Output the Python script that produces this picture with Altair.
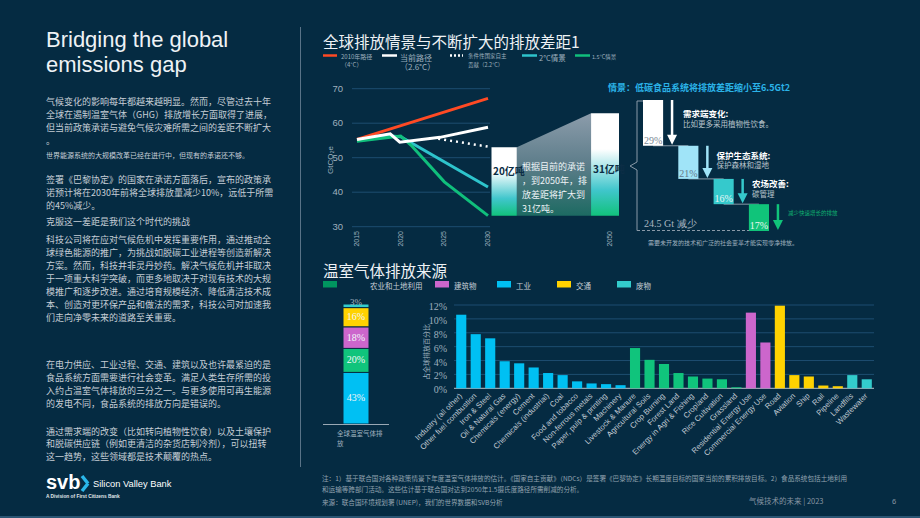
import altair as alt
import pandas as pd

# ---------------- data ----------------
# line chart (global emissions scenarios, GtCO2e)
red_years = [2015, 2030]
red_vals = [55.3, 67.2]
cur_years = [2015, 2018.8, 2019.9, 2024.5, 2030]
cur_vals = [55.3, 56.9, 54.5, 55.9, 58.8]
ndc_years = [2024.3, 2030]
ndc_vals = [55.5, 53.2]
t2_years = [2015, 2018.8, 2020, 2030]
t2_vals = [54.9, 56.3, 56.1, 41.5]
t15_years = [2015, 2018.8, 2020, 2021.2, 2025, 2030]
t15_vals = [54.8, 55.9, 56.3, 53.6, 43.0, 33.2]
line_ticks = [30, 40, 50, 60, 70]
line_years = [2015, 2020, 2025, 2030]
gap_low = [33.2, 33.2]
gap_high = [53.0, 62.9]
gap_labels = ["20亿吨", "31亿吨"]

# waterfall
wf_steps = ["需求端变化", "保护生态系统", "农场改善", "减少快速增长的排放"]
wf_pcts = [29, 21, 16, 17]

# stacked bar
sector_names = ["农业和土地利用", "建筑物", "工业", "交通", "废物"]
stack_order = ["工业", "农业和土地利用", "建筑物", "交通", "废物"]
stack_vals = [43, 20, 18, 16, 3]

# bar chart
bar_cats = ["Industry (all other)", "Other fuel combustion", "Iron & Steel", "Oil & Natural Gas",
            "Chemicals (energy)", "Cement", "Chemicals (industrial)", "Coal", "Food and tobacco",
            "Non-ferrous metals", "Paper, pulp & printing", "Machinery", "Livestock & Manure",
            "Agricultural Soils", "Crop Burning", "Forest Land", "Energy in Agri & Fishing",
            "Cropland", "Rice Cultivation", "Grassland", "Residential Energy Use",
            "Commercial Energy Use", "Road", "Aviation", "Ship", "Rail", "Pipeline",
            "Landfills", "Wastewater"]
bar_vals = [10.6, 7.8, 7.2, 3.9, 3.6, 3.0, 2.2, 1.9, 1.0, 0.7, 0.6, 0.45,
            5.8, 4.1, 3.5, 2.2, 1.7, 1.4, 1.3, 0.15,
            10.9, 6.6,
            11.9, 1.9, 1.7, 0.4, 0.3,
            1.9, 1.3]
bar_sector = ["工业"] * 12 + ["农业和土地利用"] * 8 + ["建筑物"] * 2 + ["交通"] * 5 + ["废物"] * 2
bar_ticks = [0, 2, 4, 6, 8, 10, 12]

# ---------------- style ----------------
BG = "#052b42"
CJK = "Noto Sans CJK SC"
LAT = "Liberation Sans"
SERIF = "Liberation Serif"
BODY = "#c5ced6"
WHITE = "#eef2f5"
GRAY = "#9fb0be"
GRID = "#1d4d70"
C_AGRI, C_BUILD, C_IND, C_TRANS, C_WASTE = "#10c47c", "#cc66cc", "#00c0f3", "#ffd200", "#33cccc"
sector_colors = [C_AGRI, C_BUILD, C_IND, C_TRANS, C_WASTE]
wf_colors = ["#ffffff", "#a0e4f8", "#35c9cc", "#10c47a"]
wf_text_colors = ["#7a8894", "#66798a", "#eaf6f6", "#eaf8f0"]

ONE = pd.DataFrame({"k": [0]})


def T(x, y, s, size=9, color=BODY, font=CJK, weight="normal", align="left", angle=None, baseline="middle"):
    kw = dict(font=font, fontSize=size, color=color, fontWeight=weight, align=align, baseline=baseline)
    if angle is not None:
        kw["angle"] = angle
    return alt.Chart(ONE).mark_text(**kw).encode(x=alt.value(x), y=alt.value(y), text=alt.value(s))


def R(x1, y1, x2, y2, color, width=1, dash=None):
    kw = dict(color=color, strokeWidth=width)
    if dash:
        kw["strokeDash"] = dash
    return alt.Chart(ONE).mark_rule(**kw).encode(x=alt.value(x1), y=alt.value(y1),
                                                 x2=alt.value(x2), y2=alt.value(y2))


def BOX(x1, y1, x2, y2, color):
    return alt.Chart(ONE).mark_rect(color=color).encode(x=alt.value(x1), y=alt.value(y1),
                                                        x2=alt.value(x2), y2=alt.value(y2))


# ---------------- line chart ----------------
X_LINE = alt.Scale(domain=[2015, 2045], range=[357, 619], nice=False, zero=False)
Y_LINE = alt.Scale(domain=[30, 70], range=[226.7, 88.7], nice=False, zero=False)

df_lt = pd.DataFrame({"v": line_ticks})
l_grid = alt.Chart(df_lt).mark_rule(color=GRID, strokeWidth=1).encode(
    y=alt.Y("v:Q", scale=Y_LINE, axis=None), x=alt.value(352), x2=alt.value(490))
l_ylab = alt.Chart(df_lt).mark_text(align="right", baseline="middle", font=LAT, fontSize=9.5, color=GRAY).encode(
    y=alt.Y("v:Q", scale=Y_LINE, axis=None), x=alt.value(343), text=alt.Text("v:Q", format="d"))
l_xlab = alt.Chart(pd.DataFrame({"yr": line_years})).mark_text(
    angle=270, align="right", baseline="middle", font=LAT, fontSize=7, color=GRAY).encode(
    x=alt.X("yr:Q", scale=X_LINE, axis=None), y=alt.value(231), text=alt.Text("yr:Q", format="d"))


def series(years, vals, color, dash=None, width=3):
    kw = dict(color=color, strokeWidth=width)
    if dash:
        kw["strokeDash"] = dash
    return alt.Chart(pd.DataFrame({"yr": years, "v": vals})).mark_line(**kw).encode(
        x=alt.X("yr:Q", scale=X_LINE, axis=None), y=alt.Y("v:Q", scale=Y_LINE, axis=None))


gap_grad = alt.Gradient(gradient="linear", x1=0, x2=0, y1=0, y2=1, stops=[
    alt.GradientStop(color="#ffffff", offset=0), alt.GradientStop(color="#ffffff", offset=0.35),
    alt.GradientStop(color="#40c6cc", offset=0.75), alt.GradientStop(color="#12c27c", offset=1)])
trap_grad = alt.Gradient(gradient="linear", x1=0, x2=0, y1=0, y2=1, stops=[
    alt.GradientStop(color="#8c9cab", offset=0), alt.GradientStop(color="#5d7d8a", offset=0.5),
    alt.GradientStop(color="#1d6a62", offset=1)])

GAP_X0 = [2030.4, 2041.8]
GAP_X1 = [2033.3, 2045.0]
df_gap = pd.DataFrame({"x0": GAP_X0, "x1": GAP_X1, "lo": gap_low, "hi": gap_high})
gap_bars = alt.Chart(df_gap).mark_rect(color=gap_grad).encode(
    x=alt.X("x0:Q", scale=X_LINE, axis=None), x2="x1:Q",
    y=alt.Y("lo:Q", scale=Y_LINE, axis=None), y2="hi:Q")
df_trap = pd.DataFrame({"yr": [GAP_X1[0], GAP_X0[1]], "top": gap_high, "bot": gap_low})
trap = alt.Chart(df_trap).mark_area(color=trap_grad).encode(
    x=alt.X("yr:Q", scale=X_LINE, axis=None),
    y=alt.Y("top:Q", scale=Y_LINE, axis=None), y2="bot:Q")

line_layer = alt.layer(
    l_grid, l_ylab, l_xlab,
    series(t2_years, t2_vals, "#2ec4cc"),
    series(t15_years, t15_vals, "#10bf7c"),
    series(red_years, red_vals, "#ff4a24"),
    series(cur_years, cur_vals, "#ffffff"),
    series(ndc_years, ndc_vals, "#ffffff", dash=[2, 4], width=2.5),
    trap, gap_bars,
)

# ---------------- waterfall ----------------
df_wf = pd.DataFrame({"step": wf_steps, "pct": wf_pcts})
df_wf["end"] = df_wf["pct"].cumsum()
df_wf["start"] = df_wf["end"] - df_wf["pct"]
df_wf["label"] = df_wf["pct"].astype(str) + "%"
X_WF = alt.Scale(domain=wf_steps, range=[643, 769], paddingInner=0.43, paddingOuter=0)
Y_WF = alt.Scale(domain=[0, sum(wf_pcts)], range=[100, 231], nice=False, zero=False)
C_WF = alt.Scale(domain=wf_steps, range=wf_colors)
C_WFT = alt.Scale(domain=wf_steps, range=wf_text_colors)
xw = alt.X("step:N", scale=X_WF, axis=None)

df_conn = pd.DataFrame({"a": wf_steps[:-1], "b": wf_steps[1:], "y": list(df_wf["end"][:-1])})
wf_conn = alt.Chart(df_conn).mark_rule(color="#8a9aa8", strokeWidth=1).encode(
    x=alt.X("a:N", scale=X_WF, axis=None), x2="b:N", y=alt.Y("y:Q", scale=Y_WF, axis=None))
wf_box = alt.Chart(df_wf).mark_bar().encode(
    x=xw, y=alt.Y("start:Q", scale=Y_WF, axis=None), y2="end:Q",
    color=alt.Color("step:N", scale=C_WF, legend=None))
wf_lab = alt.Chart(df_wf).mark_text(font=SERIF, fontSize=10, baseline="middle", yOffset=-5).encode(
    x=xw, y=alt.Y("end:Q", scale=Y_WF, axis=None), text="label:N",
    fill=alt.Fill("step:N", scale=C_WFT, legend=None))
wf_shaft = alt.Chart(df_wf).mark_rule(strokeWidth=2.5, xOffset=19, y2Offset=-6).encode(
    x=xw, y=alt.Y("start:Q", scale=Y_WF, axis=None), y2="end:Q",
    color=alt.Color("step:N", scale=C_WF, legend=None))
wf_head = alt.Chart(df_wf).mark_point(shape="M-1,-1L1,-1L0,1Z", size=100, filled=True, opacity=1,
                                      xOffset=19, yOffset=-6).encode(
    x=xw, y=alt.Y("end:Q", scale=Y_WF, axis=None),
    color=alt.Color("step:N", scale=C_WF, legend=None))
wf_layer = alt.layer(wf_conn, wf_box, wf_shaft, wf_head, wf_lab)

# ---------------- stacked bar ----------------
df_s = pd.DataFrame({"sector": stack_order, "v": stack_vals})
df_s["end"] = df_s["v"].cumsum()
df_s["start"] = df_s["end"] - df_s["v"]
df_s["mid"] = (df_s["start"] + df_s["end"]) / 2
df_s["label"] = df_s["v"].astype(str) + "%"
Y_ST = alt.Scale(domain=[0, 100], range=[424, 304], nice=False, zero=False)
C_SEC = alt.Scale(domain=sector_names, range=sector_colors)
st_bar = alt.Chart(df_s).mark_rect(stroke=BG, strokeWidth=1).encode(
    x=alt.value(343), x2=alt.value(369),
    y=alt.Y("start:Q", scale=Y_ST, axis=None), y2="end:Q",
    color=alt.Color("sector:N", scale=C_SEC, legend=None))
st_lab = alt.Chart(df_s).transform_filter(alt.datum.v > 5).mark_text(
    font=SERIF, fontSize=10, color="#f2f7f9", baseline="middle").encode(
    x=alt.value(356), y=alt.Y("mid:Q", scale=Y_ST, axis=None), text="label:N")
st_lab2 = alt.Chart(df_s).transform_filter(alt.datum.v <= 5).mark_text(
    font=SERIF, fontSize=9, color="#aab8c4", baseline="middle", yOffset=-4).encode(
    x=alt.value(356), y=alt.Y("mid:Q", scale=Y_ST, axis=None), text="label:N")
stack_layer = alt.layer(st_bar, st_lab, st_lab2)

# ---------------- bar chart ----------------
df_b = pd.DataFrame({"cat": bar_cats, "val": bar_vals, "sector": bar_sector})
X_B = alt.Scale(domain=bar_cats, range=[454, 874], paddingInner=0.3, paddingOuter=0.15)
Y_B = alt.Scale(domain=[0, 12], range=[388.3, 305], nice=False, zero=False)
df_bt = pd.DataFrame({"v": bar_ticks})
b_grid = alt.Chart(df_bt).transform_filter(alt.datum.v > 0).mark_rule(color=GRID, strokeWidth=1).encode(
    y=alt.Y("v:Q", scale=Y_B, axis=None), x=alt.value(454), x2=alt.value(874))
b_base = alt.Chart(df_bt).transform_filter(alt.datum.v == 0).mark_rule(color="#b9c3cb", strokeWidth=1).encode(
    y=alt.Y("v:Q", scale=Y_B, axis=None), x=alt.value(454), x2=alt.value(874))
b_ylab = alt.Chart(df_bt).transform_calculate(lab="datum.v + '%'").mark_text(
    align="right", baseline="middle", font=SERIF, fontSize=10, color=GRAY, dy=2).encode(
    y=alt.Y("v:Q", scale=Y_B, axis=None), x=alt.value(447), text="lab:N")
b_bars = alt.Chart(df_b).mark_bar().encode(
    x=alt.X("cat:N", scale=X_B, axis=None, sort=bar_cats),
    y=alt.Y("val:Q", scale=Y_B, axis=None),
    color=alt.Color("sector:N", scale=C_SEC, legend=None))
b_xlab = alt.Chart(df_b).mark_text(angle=315, align="right", baseline="middle", font=LAT,
                                   fontSize=7.8, color="#c0cad3").encode(
    x=alt.X("cat:N", scale=X_B, axis=None, sort=bar_cats), y=alt.value(395), text="cat:N")
bar_layer = alt.layer(b_grid, b_base, b_bars, b_ylab, b_xlab)

# ---------------- texts & decorations ----------------
deco = []
# left column
deco += [
    T(46, 46.5, "Bridging the global", size=22, color=WHITE, font=LAT, baseline="alphabetic"),
    T(46, 71.5, "emissions gap", size=22, color=WHITE, font=LAT, baseline="alphabetic"),
]
body = [
    (102, "气候变化的影响每年都越来越明显。然而，尽管过去十年", 9),
    (115, "全球在遏制温室气体（GHG）排放增长方面取得了进展，", 9),
    (128, "但当前政策承诺与避免气候灾难所需之间的差距不断扩大", 9),
    (141, "。", 9),
    (155.5, "世界能源系统的大规模改革已经在进行中，但现有的承诺还不够。", 7),
    (180, "签署《巴黎协定》的国家在承诺方面落后，宣布的政策承", 9),
    (193, "诺预计将在2030年前将全球排放量减少10%，远低于所需", 9),
    (205.5, "的45%减少。", 9),
    (222, "克服这一差距是我们这个时代的挑战", 9),
    (239.5, "科技公司将在应对气候危机中发挥重要作用，通过推动全", 9),
    (252.7, "球绿色能源的推广，为挑战如脱碳工业进程等创造新解决", 9),
    (265.5, "方案。然而，科技并非灵丹妙药。解决气候危机并非取决", 9),
    (278.7, "于一项重大科学突破，而更多地取决于对现有技术的大规", 9),
    (291.7, "模推广和逐步改进。通过培育规模经济、降低清洁技术成", 9),
    (304.8, "本、创造对更环保产品和做法的需求，科技公司对加速我", 9),
    (317.7, "们走向净零未来的道路至关重要。", 9),
    (365, "在电力供应、工业过程、交通、建筑以及也许最紧迫的是", 9),
    (378.3, "食品系统方面需要进行社会变革。满足人类生存所需的投", 9),
    (391.3, "入约占温室气体排放的三分之一。与更多使用可再生能源", 9),
    (404.3, "的发电不同，食品系统的排放方向是错误的。", 9),
    (431.7, "通过需求端的改变（比如转向植物性饮食）以及土壤保护", 9),
    (444.3, "和脱碳供应链（例如更清洁的杂货店制冷剂），可以扭转", 9),
    (457, "这一趋势，这些领域都是技术颠覆的热点。", 9),
]
for y, s, sz in body:
    deco.append(T(46, y, s, size=sz))
deco += [
    T(46, 489, "svb", size=20, color="#ffffff", font=LAT, weight="bold", baseline="alphabetic"),
    R(82, 476, 88, 483.5, "#2ab7ea", 3.5),
    R(88, 483.5, 82, 491, "#2ab7ea", 3.5),
    T(93, 486.5, "Silicon Valley Bank", size=9.3, color="#ffffff", font=LAT, baseline="alphabetic"),
    T(46, 497, "A Division of First Citizens Bank", size=4.8, color="#e0e6ea", font=LAT, weight="bold"),
    R(300.5, 27, 300.5, 467, "#5a7387", 1),
    R(0, 517, 920, 517, "#2b5573", 2),
]
# top chart title & legend
deco += [
    T(323, 43, "全球排放情景与不断扩大的排放差距1", size=15.5, color=WHITE),
    R(323, 55.5, 337, 55.5, "#ff4a24", 2.5),
    T(341, 57, "2010年路径", size=6, color=GRAY),
    T(341, 65, "（4°C）", size=6, color=GRAY),
    R(382, 55.5, 397, 55.5, "#ffffff", 2.5),
    T(400, 58.5, "当前路径", size=8, color=GRAY),
    T(400, 68.3, "（2.6°C）", size=8, color=GRAY),
    R(450, 55.5, 463, 55.5, "#ffffff", 2.5, dash=[2, 2]),
    T(468, 56, "条件性国家自主", size=5.5, color=GRAY),
    T(468, 64.7, "贡献（2.2°C）", size=5.5, color=GRAY),
    R(522, 55.5, 537, 55.5, "#2ec4cc", 2.5),
    T(539, 59, "2°C情景", size=7.5, color=GRAY),
    R(575, 55.5, 590, 55.5, "#10bf7c", 2.5),
    T(592, 56.5, "1.5°C情景", size=5.5, color=GRAY),
    T(331, 160, "GtCO₂e", size=8, color=GRAY, font=LAT, align="center", angle=270),
    T(610, 231, "2050", size=7, color=GRAY, font=LAT, align="right", angle=270),
    T(493, 172, gap_labels[0], size=10, color="#0b2d45", weight="bold"),
    T(593, 170, gap_labels[1], size=10, color="#0b2d45", weight="bold"),
    T(522, 167, "根据目前的承诺", size=9, color="#eef3f6"),
    T(522, 181, "，到2050年，排", size=9, color="#eef3f6"),
    T(522, 195, "放差距将扩大到", size=9, color="#eef3f6"),
    T(522, 209, "31亿吨。", size=9, color="#eef3f6"),
]
# waterfall annotations
deco += [
    T(608, 88, "情景：低碳食品系统将排放差距缩小至6.5Gt2", size=9, color="#2bb3e8", weight="bold"),
    R(637, 101, 643, 101, "#8a9aa8", 1),
    R(637, 101, 637, 162, "#8a9aa8", 1),
    R(637, 162, 630, 166, "#8a9aa8", 1),
    R(630, 166, 637, 170, "#8a9aa8", 1),
    R(637, 170, 637, 230.5, "#8a9aa8", 1),
    R(637, 230.5, 749, 230.5, "#8a9aa8", 1, dash=[3, 2]),
    T(683, 114, "需求端变化:", size=8.5, color="#ffffff", weight="bold"),
    T(683, 124.5, "比如更多采用植物性饮食。", size=7.5, color="#b9c4cc"),
    T(716.5, 156, "保护生态系统:", size=8.5, color="#ffffff", weight="bold"),
    T(716.5, 166.3, "保护森林和湿地", size=7.5, color="#b9c4cc"),
    T(752, 184.3, "农场改善:", size=8.5, color="#ffffff", weight="bold"),
    T(752, 194.7, "碳管理", size=7.5, color="#b9c4cc"),
    T(788, 213.3, "减少快速增长的排放", size=5.5, color="#10b070"),
    T(644, 224, "24.5 Gt 减少", size=10, color="#a9b6c1", font=SERIF),
    T(648, 243, "需要未开发的技术和广泛的社会变革才能实现零净排放。", size=6, color=GRAY),
]
# bottom chart title & legend
leg_sq_x = [323, 435, 497, 557, 617]
leg_tx_x = [370, 454, 516, 576, 636]
deco.append(T(323, 272, "温室气体排放来源", size=15.5, color=WHITE))
leg_sq_colors = ["#00955f", C_BUILD, C_IND, C_TRANS, C_WASTE]
for sx, tx, name, c in zip(leg_sq_x, leg_tx_x, sector_names, leg_sq_colors):
    deco.append(BOX(sx, 281, sx + 14, 287.5, c))
    deco.append(T(tx, 286.5, name, size=7.5, color=BODY))
deco += [
    R(323, 424.5, 389, 424.5, "#9aa8b4", 1),
    T(337, 434, "全球温室气体排", size=6.5, color=GRAY),
    T(337, 444, "放", size=6.5, color=GRAY),
    T(427, 352, "占全球排放百分比", size=7, color=GRAY, align="center", angle=270),
]
# footer
deco += [
    T(322, 479, "注：1）基于联合国对各种政策情景下年度温室气体排放的估计。《国家自主贡献》（NDCs）是签署《巴黎协定》长期温度目标的国家当前的累积排放目标。2）食品系统包括土地利用",
      size=6.6, color="#93a3b0"),
    T(322, 490, "和运输等跨部门活动。这些估计基于联合国对达到2050年1.5摄氏度路径所需削减的分析。", size=6.6, color="#93a3b0"),
    T(322, 503, "来源：联合国环境规划署 (UNEP)，我们的世界数据和SVB分析", size=6.6, color="#93a3b0"),
    T(749, 502, "气候技术的未来 | 2023", size=7.5, color="#8796a3"),
    T(892, 502, "6", size=7.5, color="#8796a3", font=LAT),
]

chart = alt.layer(
    line_layer, wf_layer, stack_layer, bar_layer, *deco, data=ONE
).resolve_scale(
    x="independent", y="independent", color="independent"
).properties(
    width=920, height=518, background=BG, padding=0,
    autosize=alt.AutoSizeParams(type="none"),
).configure_view(stroke=None)

chart.save("out.html", embed_options={"renderer": "svg", "actions": False})
